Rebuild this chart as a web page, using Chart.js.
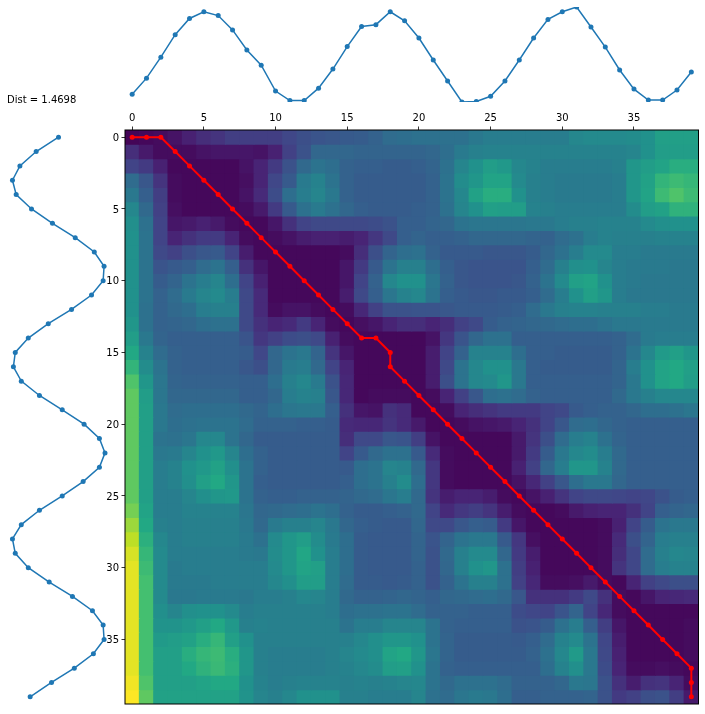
<!DOCTYPE html>
<html>
<head>
<meta charset="utf-8">
<title>Warping paths</title>
<script src="https://cdn.jsdelivr.net/npm/chart.js@4"></script>
<style>
  html, body { margin: 0; padding: 0; background: #fff; }
  body { position: relative; width: 705px; height: 714px; overflow: hidden; }
  canvas { position: absolute; }
  #topChart { left: 0; top: 0; }
  #leftChart { left: 0; top: 125px; }
  #heatChart { left: 100px; top: 110px; }
  #dist { position: absolute; left: 7px; top: 94px; font: 10px "DejaVu Sans"; color: #000; white-space: nowrap; }
</style>
</head>
<body>
<canvas id="heatChart" width="605" height="604"></canvas>
<canvas id="topChart" width="705" height="110"></canvas>
<canvas id="leftChart" width="120" height="589"></canvas>
<div id="dist">Dist = 1.4698</div>
<script>
const distLabel = "Dist = 1.4698";
const tickValues = [0, 5, 10, 15, 20, 25, 30, 35];

const topSeries = [-0.84, -0.50, -0.06, 0.41, 0.75, 0.89, 0.81, 0.51, 0.09, -0.23,
  -0.77, -0.97, -0.97, -0.71, -0.31, 0.16, 0.58, 0.62, 0.89, 0.70,
  0.34, -0.12, -0.56, -1.00, -0.99, -0.88, -0.56, -0.12, 0.34, 0.73,
  0.89, 0.99, 0.57, 0.15, -0.33, -0.73, -0.96, -0.96, -0.75, -0.37];

const leftSeries = [0.00, 0.48, 0.83, 0.99, 0.91, 0.58, 0.13, -0.36, -0.77, -0.98,
  -0.96, -0.71, -0.28, 0.22, 0.65, 0.93, 0.97, 0.80, 0.41, -0.08,
  -0.55, -0.88, -1.00, -0.88, -0.53, -0.08, 0.41, 0.80, 0.99, 0.93,
  0.65, 0.20, -0.30, -0.73, -0.96, -0.98, -0.75, -0.34, 0.15, 0.61];

const pathCols = [0, 1, 2, 3, 4, 5, 6, 7, 8, 9, 10, 11, 12, 13, 14, 15, 16, 17, 18, 18, 19, 20, 21, 22, 23, 24, 25, 26, 27, 28, 29, 30, 31, 32, 33, 34, 35, 36, 37, 38, 39, 39, 39];
const pathRows = [0, 0, 0, 1, 2, 3, 4, 5, 6, 7, 8, 9, 10, 11, 12, 13, 14, 14, 15, 16, 17, 18, 19, 20, 21, 22, 23, 24, 25, 26, 27, 28, 29, 30, 31, 32, 33, 34, 35, 36, 37, 38, 39];

// cost, in percent of the colour range, one line per row
const costRows = [
  [1, 2, 3, 5, 9, 13, 15, 18, 18, 18, 18, 21, 24, 26, 27, 28, 29, 31, 35, 36, 37, 37, 37, 37, 40, 42, 42, 42, 42, 42, 42, 46, 47, 47, 47, 48, 50, 56, 56, 56],
  [13, 7, 3, 3, 3, 5, 6, 6, 6, 5, 9, 19, 25, 33, 33, 33, 32, 32, 32, 32, 32, 33, 36, 41, 43, 44, 44, 44, 44, 44, 44, 44, 44, 44, 44, 45, 50, 55, 55, 55],
  [20, 17, 9, 2, 2, 2, 2, 2, 5, 10, 17, 25, 34, 38, 36, 31, 30, 30, 29, 29, 30, 32, 37, 45, 50, 55, 53, 46, 44, 42, 42, 42, 42, 42, 43, 52, 55, 58, 62, 62],
  [35, 27, 15, 3, 2, 2, 2, 2, 4, 10, 21, 28, 41, 44, 38, 31, 29, 29, 29, 29, 29, 31, 38, 48, 52, 58, 58, 47, 43, 42, 41, 41, 41, 41, 42, 52, 57, 65, 68, 66],
  [40, 30, 18, 3, 2, 2, 2, 2, 5, 12, 23, 36, 42, 45, 40, 31, 29, 29, 29, 29, 29, 31, 38, 46, 57, 62, 62, 50, 43, 42, 41, 41, 41, 41, 42, 52, 58, 68, 72, 68],
  [46, 34, 19, 4, 2, 2, 2, 2, 3, 7, 17, 28, 37, 41, 37, 33, 30, 29, 29, 29, 30, 31, 37, 45, 50, 56, 55, 55, 44, 43, 42, 42, 42, 42, 42, 48, 55, 57, 64, 64],
  [49, 37, 20, 6, 7, 9, 7, 3, 2, 2, 6, 14, 20, 22, 22, 22, 22, 23, 25, 30, 30, 32, 33, 38, 39, 39, 39, 39, 40, 40, 42, 43, 43, 44, 44, 44, 47, 49, 50, 50],
  [50, 38, 20, 10, 14, 17, 17, 10, 3, 2, 3, 5, 8, 9, 9, 8, 10, 16, 22, 30, 32, 30, 30, 31, 33, 33, 33, 33, 32, 31, 35, 37, 42, 44, 43, 43, 43, 44, 44, 44],
  [50, 38, 22, 19, 24, 27, 28, 20, 8, 2, 2, 2, 2, 2, 2, 3, 13, 24, 32, 36, 37, 31, 28, 28, 28, 27, 27, 27, 29, 33, 37, 42, 47, 47, 42, 42, 41, 41, 41, 41],
  [50, 38, 26, 28, 30, 35, 38, 30, 14, 6, 2, 2, 2, 2, 2, 6, 17, 28, 38, 43, 43, 36, 30, 27, 26, 26, 26, 26, 30, 35, 43, 49, 50, 45, 42, 41, 41, 41, 40, 40],
  [50, 38, 29, 32, 38, 42, 45, 36, 20, 9, 2, 2, 2, 2, 2, 6, 20, 31, 46, 50, 50, 39, 31, 27, 26, 26, 26, 27, 31, 38, 47, 56, 58, 50, 42, 41, 40, 40, 40, 40],
  [50, 38, 31, 35, 41, 45, 47, 42, 22, 12, 2, 2, 2, 2, 2, 8, 22, 30, 39, 44, 46, 38, 30, 28, 27, 27, 28, 28, 30, 35, 42, 50, 56, 52, 42, 40, 40, 40, 40, 40],
  [50, 37, 31, 34, 36, 42, 43, 43, 22, 12, 3, 5, 5, 3, 2, 3, 11, 19, 25, 25, 26, 26, 27, 28, 28, 28, 29, 30, 35, 40, 43, 44, 44, 43, 43, 43, 42, 42, 41, 41],
  [52, 37, 31, 32, 33, 36, 37, 37, 22, 14, 10, 12, 17, 10, 3, 2, 4, 6, 10, 13, 13, 10, 13, 19, 22, 29, 31, 32, 33, 34, 35, 36, 36, 38, 40, 40, 41, 41, 41, 41],
  [55, 40, 32, 30, 30, 30, 30, 30, 26, 16, 19, 23, 24, 22, 9, 3, 2, 2, 2, 2, 2, 5, 16, 26, 33, 37, 37, 30, 30, 30, 30, 30, 30, 30, 31, 35, 41, 42, 42, 42],
  [60, 44, 35, 31, 30, 30, 30, 30, 29, 21, 33, 38, 40, 32, 15, 6, 2, 2, 2, 2, 2, 8, 20, 31, 44, 44, 44, 36, 30, 30, 29, 29, 29, 29, 31, 38, 46, 54, 56, 52],
  [65, 48, 38, 31, 30, 30, 30, 30, 27, 24, 33, 41, 42, 34, 20, 10, 2, 2, 2, 2, 2, 8, 22, 38, 46, 50, 50, 40, 30, 29, 29, 29, 29, 29, 32, 42, 50, 58, 60, 56],
  [72, 52, 39, 32, 31, 31, 31, 31, 30, 30, 36, 43, 46, 41, 25, 11, 2, 2, 2, 2, 2, 8, 24, 38, 46, 47, 52, 40, 30, 30, 30, 30, 30, 30, 32, 40, 50, 58, 60, 55],
  [75, 55, 39, 33, 33, 33, 33, 33, 30, 30, 33, 42, 44, 43, 27, 11, 2, 3, 3, 3, 2, 3, 10, 19, 27, 36, 37, 35, 31, 30, 30, 30, 30, 30, 34, 40, 43, 46, 46, 46],
  [75, 56, 40, 35, 36, 36, 36, 36, 34, 32, 36, 39, 40, 40, 30, 14, 6, 5, 14, 12, 2, 2, 3, 10, 13, 15, 17, 17, 17, 20, 22, 28, 30, 31, 31, 33, 36, 36, 37, 39],
  [75, 56, 40, 36, 37, 38, 38, 38, 35, 31, 31, 31, 30, 30, 29, 12, 11, 11, 15, 12, 7, 2, 2, 3, 5, 6, 7, 10, 14, 20, 27, 35, 36, 33, 31, 30, 30, 30, 30, 30],
  [75, 56, 38, 37, 39, 46, 46, 38, 33, 29, 29, 29, 29, 29, 29, 13, 22, 22, 27, 26, 18, 5, 2, 2, 2, 2, 2, 7, 15, 24, 35, 42, 44, 37, 32, 30, 30, 30, 30, 30],
  [75, 56, 40, 41, 45, 50, 53, 45, 36, 31, 29, 29, 29, 29, 29, 20, 28, 34, 37, 37, 28, 12, 3, 2, 2, 2, 2, 7, 17, 29, 40, 46, 48, 42, 34, 30, 30, 30, 30, 30],
  [75, 56, 42, 44, 50, 53, 57, 49, 38, 31, 29, 29, 29, 29, 29, 28, 36, 38, 45, 44, 34, 16, 3, 2, 2, 2, 2, 9, 19, 33, 42, 52, 52, 44, 34, 30, 30, 30, 30, 30],
  [75, 56, 42, 44, 49, 56, 60, 52, 38, 30, 29, 29, 29, 29, 29, 30, 36, 38, 43, 48, 36, 16, 3, 2, 2, 2, 2, 5, 11, 19, 27, 36, 40, 40, 33, 30, 30, 30, 30, 30],
  [75, 56, 42, 42, 45, 49, 52, 53, 38, 31, 30, 30, 31, 31, 31, 32, 34, 35, 39, 42, 34, 15, 8, 10, 10, 8, 3, 2, 5, 9, 15, 20, 22, 22, 21, 20, 21, 25, 29, 30],
  [79, 58, 42, 42, 44, 44, 44, 44, 39, 33, 34, 35, 36, 38, 36, 31, 29, 29, 30, 31, 34, 20, 12, 16, 18, 15, 8, 3, 2, 2, 3, 7, 9, 10, 10, 14, 20, 30, 32, 33],
  [85, 60, 43, 42, 43, 43, 43, 43, 40, 34, 41, 43, 43, 45, 40, 33, 30, 29, 28, 28, 33, 22, 22, 27, 30, 29, 17, 6, 2, 2, 2, 2, 2, 3, 9, 20, 29, 38, 40, 40],
  [90, 63, 46, 42, 43, 43, 43, 43, 41, 37, 47, 52, 55, 48, 41, 36, 29, 28, 28, 28, 32, 26, 32, 38, 40, 40, 28, 16, 4, 2, 2, 2, 2, 3, 12, 24, 32, 42, 43, 43],
  [94, 66, 47, 42, 42, 42, 42, 42, 41, 40, 48, 52, 59, 50, 42, 36, 29, 28, 28, 28, 32, 25, 34, 43, 47, 47, 33, 17, 8, 2, 2, 2, 2, 3, 13, 21, 35, 43, 46, 45],
  [96, 68, 47, 41, 42, 42, 42, 42, 42, 42, 47, 52, 58, 56, 42, 36, 29, 28, 28, 28, 31, 25, 33, 43, 50, 52, 37, 18, 9, 2, 2, 2, 2, 3, 15, 21, 35, 42, 44, 44],
  [96, 70, 47, 41, 41, 41, 42, 42, 42, 42, 46, 49, 55, 55, 42, 35, 29, 29, 28, 29, 31, 25, 31, 38, 43, 43, 37, 19, 11, 3, 3, 4, 7, 3, 2, 10, 19, 22, 24, 24],
  [96, 70, 47, 40, 40, 41, 41, 41, 40, 42, 42, 43, 46, 45, 42, 34, 31, 31, 32, 33, 32, 30, 33, 34, 35, 36, 34, 27, 14, 14, 14, 17, 22, 14, 3, 2, 6, 10, 11, 12],
  [96, 70, 49, 45, 49, 50, 50, 47, 42, 43, 43, 43, 43, 43, 42, 36, 37, 37, 38, 38, 35, 31, 31, 31, 30, 30, 30, 23, 21, 20, 26, 32, 20, 11, 3, 2, 2, 2, 2, 2],
  [96, 70, 51, 51, 53, 56, 60, 53, 43, 44, 43, 43, 43, 43, 43, 38, 42, 42, 45, 45, 45, 38, 31, 30, 30, 30, 30, 25, 26, 29, 37, 42, 30, 18, 6, 2, 2, 2, 2, 3],
  [96, 70, 54, 55, 57, 62, 66, 56, 50, 43, 43, 43, 43, 43, 43, 43, 46, 49, 52, 52, 50, 38, 32, 29, 29, 29, 29, 28, 30, 35, 44, 47, 38, 21, 8, 2, 2, 2, 2, 3],
  [96, 70, 56, 56, 62, 66, 68, 62, 52, 43, 42, 42, 42, 42, 43, 45, 47, 49, 58, 60, 52, 39, 32, 29, 29, 29, 29, 29, 31, 37, 46, 54, 40, 22, 9, 2, 2, 2, 2, 3],
  [96, 70, 56, 56, 60, 64, 67, 63, 52, 43, 42, 42, 42, 42, 43, 44, 46, 48, 55, 56, 50, 38, 31, 30, 30, 30, 30, 30, 30, 36, 44, 49, 40, 23, 10, 3, 3, 4, 3, 2],
  [98, 72, 56, 56, 56, 58, 60, 60, 50, 44, 42, 43, 44, 44, 44, 43, 44, 43, 44, 45, 46, 38, 34, 37, 37, 37, 35, 31, 31, 31, 33, 40, 39, 25, 14, 8, 14, 15, 10, 3],
  [100, 75, 57, 57, 57, 57, 57, 57, 51, 45, 43, 46, 50, 50, 50, 43, 43, 42, 42, 42, 45, 37, 35, 39, 41, 40, 36, 30, 30, 31, 31, 31, 32, 25, 17, 19, 24, 25, 18, 7]
];

// viridis stops, every 10 %
const viridis = ["#440154", "#482475", "#414487", "#355f8d", "#2a788e", "#21918c", "#22a884", "#44bf70", "#7ad151", "#bddf26", "#fde725"];

function toRgb(hex) {
  return [1, 3, 5].map(i => parseInt(hex.slice(i, i + 2), 16));
}

function colorFor(pct) {
  const p = Math.min(9.999, pct / 10);
  const i = Math.floor(p);
  const a = toRgb(viridis[i]), b = toRgb(viridis[i + 1]);
  const c = a.map((v, k) => Math.round(v + (b[k] - v) * (p - i)));
  return `rgb(${c[0]},${c[1]},${c[2]})`;
}

const blue = "#1f77b4";
const red = "#ff0000";
const fontBase = { family: "'DejaVu Sans'", size: 10 };

// black box around the heat map, on top of the cells
const frame = {
  id: "frame",
  afterDatasetsDraw(chart) {
    const a = chart.chartArea, ctx = chart.ctx;
    ctx.save();
    ctx.strokeStyle = "#000";
    ctx.lineWidth = 1;
    ctx.strokeRect(a.left, a.top, a.right - a.left, a.bottom - a.top);
    ctx.restore();
  }
};

function axisTicks(scale) {
  scale.ticks = tickValues.map(v => ({ value: v }));
}

function heatAxis(extra, labelOffset) {
  return Object.assign({
    type: "linear",
    min: -0.5,
    max: 39.5,
    offset: false,
    afterBuildTicks: axisTicks,
    grid: { offset: false, drawOnChartArea: false, drawTicks: true, tickLength: 3.5, tickWidth: 0.8, tickColor: "#000" },
    border: { display: false },
    ticks: { font: fontBase, color: "#000", padding: 2.5, autoSkip: false, maxRotation: 0, labelOffset: labelOffset }
  }, extra);
}

const rowDatasets = costRows.map((row, i) => ({
  type: "bar",
  order: 2,
  grouped: false,
  barPercentage: 1,
  categoryPercentage: 1,
  inflateAmount: 0.5,
  borderWidth: 0,
  data: row.map((v, j) => ({ x: j, y: [i - 0.5, i + 0.5] })),
  backgroundColor: row.map(colorFor)
}));

new Chart(document.getElementById("heatChart"), {
  type: "bar",
  data: {
    datasets: [{
      type: "line",
      order: 1,
      data: pathCols.map((c, k) => ({ x: c, y: pathRows[k] })),
      borderColor: red,
      backgroundColor: red,
      borderWidth: 2,
      pointRadius: 2.5,
      pointBorderWidth: 0,
      tension: 0
    }].concat(rowDatasets)
  },
  options: {
    responsive: false,
    animation: false,
    events: [],
    layout: { padding: { left: 0, top: 0, right: 6.5, bottom: 10 } },
    plugins: { legend: { display: false }, tooltip: { enabled: false } },
    scales: {
      x: heatAxis({ position: "top", afterFit: s => { s.height = 20; } }, 0),
      y: heatAxis({ reverse: true, position: "left", afterFit: s => { s.width = 25; } }, 1)
    }
  },
  plugins: [frame]
});

function seriesOptions(padding, xScale, yScale) {
  return {
    responsive: false,
    animation: false,
    events: [],
    layout: { padding: padding },
    plugins: { legend: { display: false }, tooltip: { enabled: false } },
    scales: {
      x: Object.assign({ type: "linear", display: false }, xScale),
      y: Object.assign({ type: "linear", display: false }, yScale)
    }
  };
}

function seriesDataset(points, clip) {
  return {
    data: points,
    showLine: true,
    clip: clip,
    borderColor: blue,
    backgroundColor: blue,
    borderWidth: 1.5,
    pointRadius: 2.5,
    pointBorderWidth: 0,
    tension: 0
  };
}

new Chart(document.getElementById("topChart"), {
  type: "scatter",
  data: { datasets: [seriesDataset(topSeries.map((v, i) => ({ x: i, y: v })), 0)] },
  options: seriesOptions({ left: 125, right: 6.5, top: 7, bottom: 8 }, { min: -0.5, max: 39.5 }, { min: -1, max: 0.99 })
});

new Chart(document.getElementById("leftChart"), {
  type: "scatter",
  data: { datasets: [seriesDataset(leftSeries.map((v, i) => ({ x: v, y: i })), false)] },
  options: seriesOptions({ left: 12, right: 15, top: 5, bottom: 10 }, { min: -1, max: 1, reverse: true }, { min: -0.5, max: 39.5, reverse: true })
});

document.getElementById("dist").textContent = distLabel;
</script>
</body>
</html>
